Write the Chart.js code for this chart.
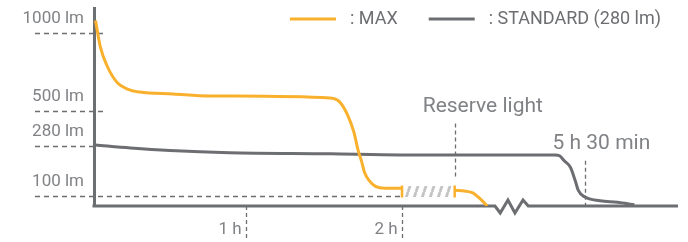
<!DOCTYPE html>
<html>
<head>
<meta charset="utf-8">
<script src="https://cdn.jsdelivr.net/npm/chart.js@4.4.1/dist/chart.umd.min.js"></script>
<style>
  html, body { margin: 0; padding: 0; background: #fff; }
</style>
</head>
<body>
<canvas id="runtimeChart" width="688" height="242"></canvas>
<script>
// Series names (legend)
const seriesNames = [': MAX', ': STANDARD (280 lm)'];

// MAX mode, hours / lumens (before reserve)
const maxHours = [0.01, 0.04, 0.085, 0.15, 0.22, 0.30, 0.52, 0.76, 1.54, 1.60, 1.65, 1.69, 1.72, 1.74, 1.76, 1.79, 1.83, 1.89, 2.0];
const maxLumens = [1082, 918, 791, 684, 639, 620, 608, 595, 582, 557, 476, 372, 262, 227, 185, 156, 135, 128, 128];

// MAX mode after reserve light
const maxTailHours = [2.34, 2.41, 2.46, 2.50, 2.55];
const maxTailLumens = [121, 118, 111, 80, 0];

// STANDARD mode
const stdHours = [0.01, 0.24, 0.5, 0.89, 1.54, 1.99, 5.31, 5.34, 5.37, 5.41, 5.44, 5.46, 5.50, 5.60, 5.71, 5.82];
const stdLumens = [286, 273, 264, 256, 252, 248, 248, 245, 227, 203, 156, 121, 93, 53, 37, 12];

// Reserve light (hatched) and its end caps
const reserveHours = [2.02, 2.32];
const reserveLumens = [117, 117];
const capHours = [2.0, 2.34];
const capLumens = [117, 117];

// Axis ticks
const yTicks = [100, 280, 500, 1000];
const yTickLabels = ['100 lm', '280 lm', '500 lm', '1000 lm'];
const guideEndHours = [2.0, 0, 0.07, 0.07];
const xTicks = [1, 2];
const xTickLabels = ['1 h', '2 h'];

// Annotated markers
const markerHours = [2.34, 5.5];
const markerLabels = ['Reserve light', '5 h 30 min'];
const markerFromLumens = [160, 0];
const markerToLumens = [420, 227];

// Axis break (hours skipped)
const breakHours = [2.6, 5.15];

const ORANGE = '#f9b12d';
const GREY = '#6d6e71';
const TEXT = '#808285';
const FONT = 'Roboto, "Open Sans", sans-serif';

// Non-linear axes: value -> fraction of the axis length
const axisBreaks = {
  x: { values: [0, 1, 2, breakHours[0], breakHours[1], 6.1], fractions: [0, 0.2603, 0.5274, 0.6866, 0.7466, 1] },
  y: { values: [0, 100, 280, 500, 1000, 1160], fractions: [0, 0.0498, 0.3035, 0.4826, 0.8756, 1] }
};

class BrokenScale extends Chart.LinearScale {
  getPixelForValue(value) {
    const b = axisBreaks[this.id];
    const v = b.values, f = b.fractions;
    let i = 1;
    while (i < v.length - 1 && value > v[i]) i++;
    const frac = f[i - 1] + (value - v[i - 1]) / (v[i] - v[i - 1]) * (f[i] - f[i - 1]);
    return this.isHorizontal() ? this.left + frac * this.width : this.bottom - frac * this.height;
  }
  getValueForPixel(pixel) {
    const b = axisBreaks[this.id];
    const v = b.values, f = b.fractions;
    const frac = this.isHorizontal() ? (pixel - this.left) / this.width : (this.bottom - pixel) / this.height;
    let i = 1;
    while (i < f.length - 1 && frac > f[i]) i++;
    return v[i - 1] + (frac - f[i - 1]) / (f[i] - f[i - 1]) * (v[i] - v[i - 1]);
  }
}
BrokenScale.id = 'broken';
BrokenScale.defaults = {};
Chart.register(BrokenScale);

function toPoints(xs, ys) {
  return xs.map((h, i) => ({ x: h, y: ys[i] }));
}

// no extra room for tick labels at the axis ends
function noEndPadding(s) {
  s.paddingTop = 0; s.paddingBottom = 0; s.paddingLeft = 0; s.paddingRight = 0;
}

// Diagonal hatch for the reserve segment
function hatchPattern() {
  const c = document.createElement('canvas');
  c.width = 8; c.height = 24;
  const g = c.getContext('2d');
  g.strokeStyle = '#c4c4c4';
  g.lineWidth = 2.8;
  [-8, 0, 8].forEach(dx => {
    g.beginPath(); g.moveTo(dx, 24); g.lineTo(dx + 8, 0); g.stroke();
  });
  return g.createPattern(c, 'repeat');
}

// Axis with break, dashed guides, markers, labels and legend
const decorPlugin = {
  id: 'decor',
  beforeDatasetsDraw(chart) {
    const { ctx, chartArea, scales: { x, y } } = chart;
    ctx.save();

    // guides for the lumen levels
    ctx.strokeStyle = GREY;
    ctx.lineWidth = 1.3;
    ctx.setLineDash([5, 4]);
    yTicks.forEach((v, i) => {
      const py = Math.round(y.getPixelForValue(v)) + 0.5;
      ctx.beginPath();
      ctx.moveTo(chartArea.left - 59, py);
      ctx.lineTo(x.getPixelForValue(guideEndHours[i]), py);
      ctx.stroke();
    });

    // vertical markers
    ctx.setLineDash([4, 3]);
    markerHours.forEach((h, i) => {
      const px = Math.round(x.getPixelForValue(h)) + 0.5;
      ctx.beginPath();
      ctx.moveTo(px, y.getPixelForValue(markerToLumens[i]));
      ctx.lineTo(px, y.getPixelForValue(markerFromLumens[i]));
      ctx.stroke();
    });

    // x axis with zigzag break
    ctx.setLineDash([]);
    ctx.lineWidth = 3;
    ctx.lineJoin = 'miter';
    const ay = chartArea.bottom;
    const b0 = x.getPixelForValue(breakHours[0]);
    const b1 = x.getPixelForValue(breakHours[1]);
    const w = b1 - b0;
    ctx.beginPath();
    ctx.moveTo(chartArea.left - 1.5, ay);
    ctx.lineTo(b0, ay);
    [[0.15, 7], [0.37, -6], [0.57, 7], [0.8, -6], [0.95, 0]].forEach(p => ctx.lineTo(b0 + p[0] * w, ay + p[1]));
    ctx.lineTo(chartArea.right, ay);
    ctx.stroke();
    ctx.restore();
  },
  afterDraw(chart) {
    const { ctx, scales: { x, y } } = chart;
    ctx.save();

    // marker labels
    ctx.font = '21px ' + FONT;
    ctx.fillStyle = TEXT;
    ctx.textAlign = 'left';
    ctx.textBaseline = 'middle';
    markerHours.forEach((h, i) => {
      const px = x.getPixelForValue(h);
      const top = y.getPixelForValue(markerToLumens[i]);
      ctx.fillText(markerLabels[i], px - 32, top - 17);
    });

    // legend
    const items = [chart.data.datasets[0], chart.data.datasets[4]];
    ctx.font = '18px ' + FONT;
    ctx.fillStyle = GREY;
    let lx = 290;
    const ly = 19;
    items.forEach(ds => {
      ctx.strokeStyle = ds.borderColor;
      ctx.lineWidth = 3;
      ctx.beginPath();
      ctx.moveTo(lx, ly);
      ctx.lineTo(lx + 46, ly);
      ctx.stroke();
      ctx.fillText(ds.label, lx + 60, ly);
      lx += 60 + ctx.measureText(ds.label).width + 31;
    });
    ctx.restore();
  }
};

const lineStyle = {
  borderWidth: 3,
  pointRadius: 0,
  fill: false,
  cubicInterpolationMode: 'monotone'
};

new Chart(document.getElementById('runtimeChart'), {
  type: 'line',
  data: {
    datasets: [
      Object.assign({ label: seriesNames[0], data: toPoints(maxHours, maxLumens), borderColor: ORANGE }, lineStyle),
      Object.assign({ label: '', data: toPoints(maxTailHours, maxTailLumens), borderColor: ORANGE }, lineStyle),
      {
        label: '', data: toPoints(capHours, capLumens), showLine: false,
        pointStyle: 'line', pointRotation: 90, pointRadius: 6,
        pointBorderColor: ORANGE, pointBorderWidth: 2.5, borderColor: ORANGE
      },
      {
        label: '', data: toPoints(reserveHours, reserveLumens), borderColor: hatchPattern(),
        borderWidth: 11, borderCapStyle: 'butt', pointRadius: 0, tension: 0
      },
      Object.assign({ label: seriesNames[1], data: toPoints(stdHours, stdLumens), borderColor: GREY }, lineStyle)
    ]
  },
  options: {
    responsive: false,
    animation: false,
    devicePixelRatio: 1,
    layout: { padding: { top: 5, right: 10, left: 0, bottom: 0 } },
    plugins: { legend: { display: false }, tooltip: { enabled: false } },
    scales: {
      x: {
        type: 'broken', min: 0, max: 6.1,
        afterFit: s => { s.height = 36; noEndPadding(s); },
        afterBuildTicks: s => { s.ticks = xTicks.map(v => ({ value: v })); },
        grid: {
          display: true, drawOnChartArea: false, drawTicks: true,
          tickLength: 34, tickColor: GREY, tickWidth: 1.3, tickBorderDash: [4, 3]
        },
        border: { display: false },
        ticks: {
          callback: (v, i) => xTickLabels[i],
          labelOffset: -16, padding: -20, maxRotation: 0, autoSkip: false,
          color: TEXT, font: { family: FONT, size: 17 }
        }
      },
      y: {
        type: 'broken', min: 0, max: 1160,
        afterFit: s => { s.width = 94; noEndPadding(s); },
        afterBuildTicks: s => { s.ticks = yTicks.map(v => ({ value: v })); },
        grid: { display: true, drawOnChartArea: false, drawTicks: false },
        border: { display: true, color: GREY, width: 3 },
        ticks: {
          callback: (v, i) => yTickLabels[i],
          labelOffset: -14, padding: 10, autoSkip: false,
          color: TEXT, font: { family: FONT, size: 17 }
        }
      }
    }
  },
  plugins: [decorPlugin]
});
</script>
</body>
</html>
